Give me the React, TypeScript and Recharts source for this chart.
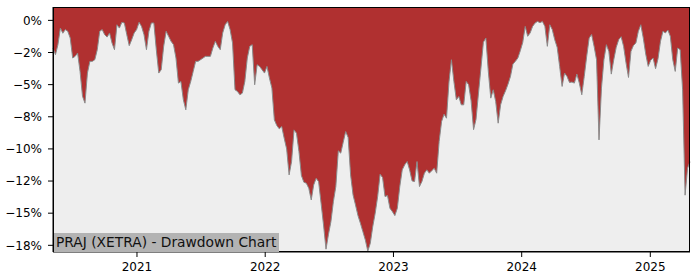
import React from 'react';
import { AreaChart, Area, XAxis, YAxis, CartesianGrid } from 'recharts';

// weekly closes, drawdown from running peak in %
const startDate = '2020-05-07';
const drawdown = [
  -2.15, -2.67, -1.9, -0.6, -1.0, -0.72, -0.85, -1.37, -2.93, -2.8,
  -2.54, -3.97, -5.9, -6.44, -4.1, -3.19, -3.19, -3.06, -2.28, -0.85,
  -0.72, -1.11, -1.3, -0.98, -1.76, -2.28, -0.34, -0.6, -0.15, -0.2,
  -1.11, -1.97, -1.5, -0.98, -0.72, -0.15, -0.47, -1.11, -2.28, -0.85,
  -0.2, -0.2, -2.28, -4.1, -3.84, -2.02, -0.85, -1.24, -1.63, -1.89,
  -2.93, -4.88, -4.75, -6.18, -6.96, -5.4, -4.75, -3.97, -3.19, -3.19,
  -3.06, -2.93, -2.8, -2.8, -2.8, -2.15, -1.63, -2.02, -2.28, -0.98,
  -0.34, -0.08, -0.72, -1.76, -5.4, -5.53, -5.79, -5.66, -4.75, -2.93,
  -2.02, -1.89, -5.01, -3.45, -3.58, -3.84, -4.1, -3.58, -4.49, -5.27,
  -7.74, -8.18, -8.44, -8.26, -9.17, -10.0, -12.02, -10.98, -8.52, -8.78,
  -10.2, -12.07, -12.59, -12.67, -13.06, -13.97, -12.8, -12.29, -12.55, -14.23,
  -15.92, -17.8, -16.65, -15.66, -14.1, -12.93, -10.15, -10.33, -9.48, -8.65,
  -9.11, -12.02, -13.58, -14.36, -15.19, -15.79, -16.44, -17.09, -17.95, -17.35,
  -16.05, -15.0, -13.71, -11.97, -12.23, -13.71, -13.63, -14.62, -14.88, -15.19,
  -14.62, -12.93, -11.63, -11.24, -10.98, -11.63, -12.49, -12.54, -10.98, -12.93,
  -12.54, -11.89, -11.63, -11.89, -11.69, -11.5, -11.89, -9.43, -7.87, -7.3,
  -7.61, -4.8, -3.06, -4.75, -6.18, -5.92, -6.57, -6.57, -4.75, -5.01,
  -6.26, -8.5, -7.7, -5.66, -3.71, -1.7, -1.37, -3.97, -6.05, -5.4,
  -6.31, -8.0, -6.57, -5.92, -5.48, -4.96, -4.36, -3.4, -3.19, -2.93,
  -2.36, -1.71, -0.47, -1.24, -0.98, -0.47, -0.21, -0.08, -0.18, -0.08,
  -0.47, -2.02, -0.34, -0.72, -1.5, -2.1, -3.58, -5.14, -4.1, -4.36,
  -4.83, -4.8, -4.88, -4.18, -4.88, -5.79, -4.36, -2.8, -1.37, -1.1,
  -2.02, -3.06, -9.3, -5.27, -3.06, -1.89, -2.41, -4.18, -3.06, -2.1,
  -1.5, -1.27, -2.02, -3.32, -4.44, -2.41, -1.95, -1.76, -0.85, -0.34,
  -1.37, -2.62, -3.58, -3.11, -2.93, -3.76, -2.98, -1.63, -0.85, -0.98,
  -0.75, -1.24, -3.06, -3.97, -2.15, -2.28, -5.4, -13.6, -11.5, -11.0,
];

const yearTicks = ['2021-01-01', '2022-01-01', '2023-01-01', '2024-01-01', '2025-01-01'];
const yearLabels = ['2021', '2022', '2023', '2024', '2025'];
const pctTicks = [0, -2.5, -5, -7.5, -10, -12.5, -15, -17.5];
const pctLabels = ['0%', '\u22122%', '\u22125%', '\u22128%', '\u221210%', '\u221212%', '\u221215%', '\u221218%'];

const DAY = 86400000;
const t0 = Date.parse(startDate);
const data = drawdown.map((v, i) => ({ t: t0 + i * 7 * DAY, dd: v }));
const xTicks = yearTicks.map((d) => Date.parse(d));
const xDomain = [data[0].t, data[data.length - 1].t];

const font = 'DejaVu Sans, sans-serif';

export default function App() {
  return (
    <div style={{ position: 'absolute', left: 0, top: 0, width: 700, height: 280, background: '#fff', fontFamily: font }}>
      <AreaChart width={700} height={280} data={data} margin={{ top: 7, right: 10, bottom: 0, left: 0 }}>
        <CartesianGrid horizontal={false} vertical={false} fill="#eeeeee" />
        <XAxis
          dataKey="t"
          type="number"
          scale="time"
          domain={xDomain}
          ticks={xTicks}
          tickFormatter={(v) => yearLabels[xTicks.indexOf(v)] ?? ''}
          height={28}
          tickSize={5}
          tickMargin={5}
          axisLine={{ stroke: '#000' }}
          tickLine={{ stroke: '#000' }}
          tick={{ fill: '#000', fontSize: 12, fontFamily: font }}
        />
        <YAxis
          type="number"
          domain={[-18.02, 1.04]}
          allowDataOverflow
          ticks={pctTicks}
          tickFormatter={(v) => pctLabels[pctTicks.indexOf(v)] ?? ''}
          width={53}
          tickSize={5}
          tickMargin={6}
          axisLine={{ stroke: '#000' }}
          tickLine={{ stroke: '#000' }}
          tick={{ fill: '#000', fontSize: 12, fontFamily: font }}
        />
        <Area
          type="linear"
          dataKey="dd"
          baseValue="dataMax"
          fill="#b03030"
          fillOpacity={1}
          stroke="#8a8a8a"
          strokeWidth={1}
          isAnimationActive={false}
          dot={false}
          activeDot={false}
        />
      </AreaChart>
      <div
        style={{
          position: 'absolute',
          left: 53,
          top: 7,
          width: 637,
          height: 245,
          boxSizing: 'border-box',
          border: '1px solid #000',
          pointerEvents: 'none',
        }}
      />
      <div
        style={{
          position: 'absolute',
          left: 54,
          top: 233,
          height: 19,
          lineHeight: '19px',
          padding: '0 3px 0 2px',
          background: '#b3b3b3',
          color: '#111',
          fontSize: 13.8,
          whiteSpace: 'nowrap',
        }}
      >
        PRAJ (XETRA) - Drawdown Chart
      </div>
    </div>
  );
}
